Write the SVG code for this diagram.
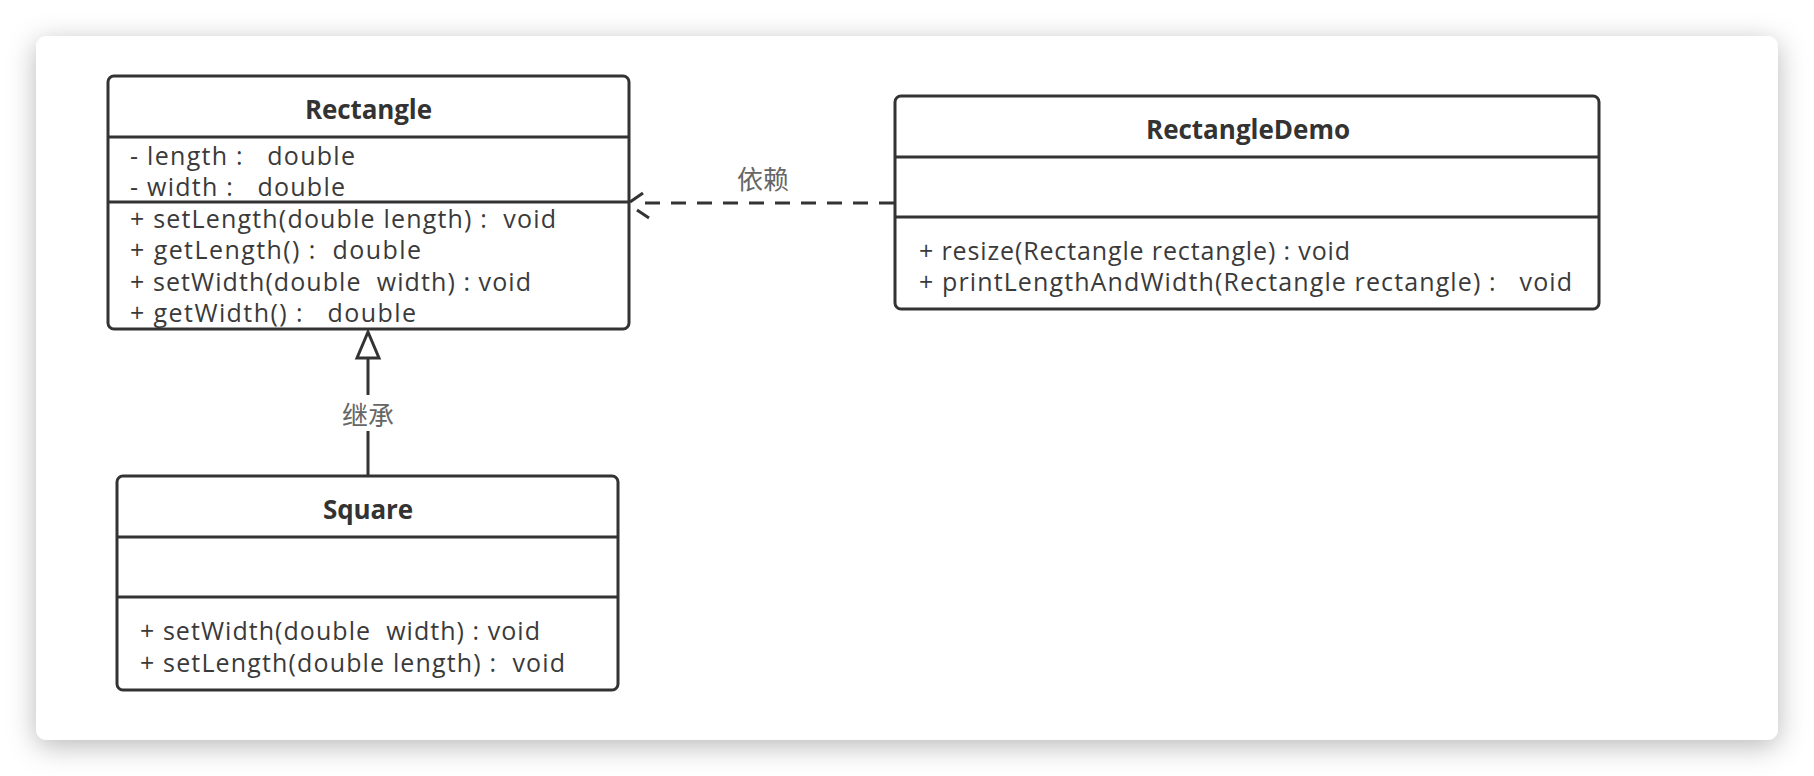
<svg xmlns="http://www.w3.org/2000/svg" width="1814" height="776" viewBox="0 0 1814 776">
  <defs>
    <filter id="shadow" x="-10%" y="-20%" width="120%" height="140%">
      <feDropShadow dx="0" dy="6" stdDeviation="14" flood-color="#000" flood-opacity="0.28"/>
    </filter>
    <style>
      .box { fill: #ffffff; stroke: #333333; stroke-width: 3; }
      .div { stroke: #333333; stroke-width: 3; fill: none; }
      .title { font-family: "Open Sans", "Noto Sans", sans-serif; font-size: 26px; font-weight: bold; fill: #333333; text-anchor: middle; }
      .mem { font-family: "Open Sans", "Noto Sans", sans-serif; font-size: 25px; fill: #3a3a3a; white-space: pre; }
      .lbl { font-family: "Noto Sans CJK SC", "Noto Sans", sans-serif; font-size: 26px; fill: #666666; text-anchor: middle; }
      .edge { stroke: #333333; stroke-width: 3; fill: none; }
    </style>
  </defs>
  <rect x="0" y="0" width="1814" height="776" fill="#ffffff"/>
  <rect id="card" x="36" y="36" width="1742" height="704" rx="11" ry="11" fill="#ffffff" filter="url(#shadow)"/>

  <g id="connectors">
    <!-- dependency -->
    <line class="edge" x1="894" y1="203" x2="645" y2="203" stroke-dasharray="15 11"/>
    <path class="edge" d="M643,193 L630,202 M637,210 L649,218"/>
    <rect x="734" y="164" width="58" height="30" fill="#ffffff"/>
    <text class="lbl" x="763" y="189">依赖</text>
    <!-- inheritance -->
    <line class="edge" x1="368" y1="358" x2="368" y2="476"/>
    <polygon class="edge" points="368,332 357,358 379,358" fill="#ffffff"/>
    <rect x="338" y="395" width="60" height="36" fill="#ffffff"/>
    <text class="lbl" x="368" y="425">继承</text>
  </g>

  <g id="Rectangle">
    <text class="mem" x="130" y="165" textLength="225" xml:space="preserve">- length :   double</text>
    <text class="mem" x="130" y="196" textLength="215" xml:space="preserve">- width :   double</text>
    <text class="mem" x="130" y="227.5" textLength="426" xml:space="preserve">+ setLength(double length) :  void</text>
    <text class="mem" x="130" y="259" textLength="291" xml:space="preserve">+ getLength() :  double</text>
    <text class="mem" x="130" y="290.5" textLength="401" xml:space="preserve">+ setWidth(double  width) : void</text>
    <text class="mem" x="130" y="322" textLength="286" xml:space="preserve">+ getWidth() :   double</text>
    <rect class="box" x="108" y="76" width="521" height="253" rx="6" ry="6" style="fill:none"/>
    <line class="div" x1="108" y1="137" x2="629" y2="137"/>
    <line class="div" x1="108" y1="202" x2="629" y2="202"/>
    <text class="title" x="368.5" y="119" textLength="127">Rectangle</text>
  </g>

  <g id="RectangleDemo">
    <rect class="box" x="895" y="96" width="704" height="213" rx="6" ry="6"/>
    <line class="div" x1="895" y1="157" x2="1599" y2="157"/>
    <line class="div" x1="895" y1="217" x2="1599" y2="217"/>
    <text class="title" x="1248" y="139" textLength="204">RectangleDemo</text>
    <text class="mem" x="919" y="259.5" textLength="431" xml:space="preserve">+ resize(Rectangle rectangle) : void</text>
    <text class="mem" x="919" y="291" textLength="653" xml:space="preserve">+ printLengthAndWidth(Rectangle rectangle) :   void</text>
  </g>

  <g id="Square">
    <rect class="box" x="117" y="476" width="501" height="214" rx="6" ry="6"/>
    <line class="div" x1="117" y1="537" x2="618" y2="537"/>
    <line class="div" x1="117" y1="597" x2="618" y2="597"/>
    <text class="title" x="368" y="519" textLength="90">Square</text>
    <text class="mem" x="140" y="640" textLength="400" xml:space="preserve">+ setWidth(double  width) : void</text>
    <text class="mem" x="140" y="671.5" textLength="425" xml:space="preserve">+ setLength(double length) :  void</text>
  </g>
</svg>
